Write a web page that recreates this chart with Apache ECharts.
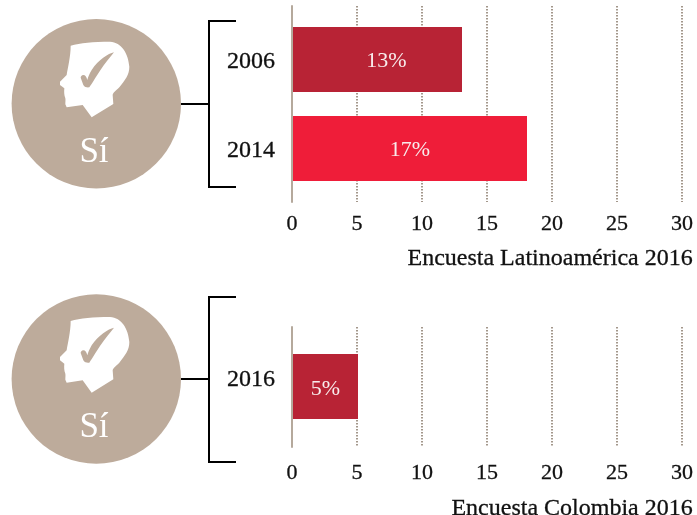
<!DOCTYPE html>
<html>
<head>
<meta charset="utf-8">
<style>
  html, body { margin: 0; padding: 0; background: #fff; }
  #chart { width: 697px; height: 515px; }
</style>
</head>
<body>
<div id="chart"></div>
<script src="https://cdn.jsdelivr.net/npm/echarts@6/dist/echarts.min.js"></script>
<script>
const latamYears = ['2006', '2014'];
const latamValues = [13, 18];
const latamLabels = ['13%', '17%'];
const colombiaYears = ['2016'];
const colombiaValues = [5];
const colombiaLabels = ['5%'];
const axisMax = 30;
const axisStep = 5;
const circleLabel = 'Sí';
const latamSource = 'Encuesta Latinoamérica 2016';
const colombiaSource = 'Encuesta Colombia 2016';

const FONT = '"Liberation Serif", serif';
const TAN = '#bdab9b';
const HEAD = 'M212 137C240 129 280 125 330 125C365 127 385 160 388 200C388 225 375 240 358 262C348 272 339 278 338 285L340 312L275 352L248 315L200 322L196 313C196 305 197 300 196 295C192 285 192 275 193 265L180 255L180 245L200 225C203 205 212 170 212 137Z';
const CHECK = 'M342 157C325 160 295 180 275 210C268 222 264 232 262 240C259 230 256 225 250 225C245 225 242 230 242 233L250 255C254 262 262 263 268 262C276 250 285 235 300 212C315 190 330 172 342 157Z';

echarts.graphic.registerShape('headShape', echarts.graphic.extendPath(HEAD));
echarts.graphic.registerShape('checkShape', echarts.graphic.extendPath(CHECK));

const badge = (top) => [
  { type: 'circle', shape: { cx: 96.3, cy: top + 84.7, r: 84.7 }, style: { fill: TAN } },
  { type: 'headShape', x: 0, y: top - 19, scaleX: 1 / 3, scaleY: 1 / 3, style: { fill: '#fff' } },
  { type: 'checkShape', x: 0, y: top - 19, scaleX: 1 / 3, scaleY: 1 / 3, style: { fill: TAN } },
  { type: 'text', x: 94, y: top + 134, style: { text: circleLabel, fill: '#fff', font: '35px ' + FONT, textAlign: 'center', textVerticalAlign: 'middle' } }
];

const bracket = (top, bottom, mid) => [
  { type: 'polyline', shape: { points: [[236, top], [209, top], [209, bottom], [236, bottom]] }, style: { stroke: '#000', lineWidth: 2, fill: null } },
  { type: 'line', shape: { x1: 181, y1: mid, x2: 209, y2: mid }, style: { stroke: '#000', lineWidth: 2 } }
];

// the grid with the dotted lines and tick labels sits behind the grid with the bars
const backAxis = (gridIndex, margin) => ({
  type: 'value',
  gridIndex,
  min: 0,
  max: axisMax,
  interval: axisStep,
  axisLine: { show: false },
  axisTick: { show: false },
  axisLabel: { margin, color: '#111', fontFamily: FONT, fontSize: 22, textBorderColor: '#111', textBorderWidth: 0.3 },
  splitLine: { lineStyle: { color: '#a3978b', type: [1.5, 1.5], width: 2 }, showMinLine: false }
});

const barAxis = (gridIndex) => ({
  type: 'value',
  gridIndex,
  min: 0,
  max: axisMax,
  show: false
});

const backYAxis = (gridIndex) => ({
  type: 'category',
  gridIndex,
  data: [''],
  z: 3,
  axisTick: { show: false },
  axisLabel: { show: false },
  axisLine: { lineStyle: { color: '#b5a99c', width: 2 } }
});

const yearLabel = { align: 'left', margin: 66, color: '#111', fontFamily: FONT, fontSize: 24, textBorderColor: '#111', textBorderWidth: 0.3 };

const barItems = (values, labels, colors, offsets) => values.map((v, i) => ({
  value: v,
  itemStyle: { color: colors[i] },
  label: { formatter: labels[i], offset: offsets[i] }
}));

const barLabel = { show: true, position: 'inside', color: '#f8ecec', fontFamily: FONT, fontSize: 22 };
const sourceStyle = { color: '#111', fontFamily: FONT, fontSize: 24, fontWeight: 'normal', textBorderColor: '#111', textBorderWidth: 0.3 };

const chart = echarts.init(document.getElementById('chart'));
chart.setOption({
  animation: false,
  backgroundColor: '#fff',
  title: [
    { text: latamSource, right: 4, top: 247, textStyle: sourceStyle, padding: 0 },
    { text: colombiaSource, right: 4, top: 497, textStyle: sourceStyle, padding: 0 }
  ],
  grid: [
    { left: 292, width: 390, top: 6, height: 196 },
    { left: 293, width: 390, top: 15, height: 178 },
    { left: 292, width: 390, top: 327, height: 120 },
    { left: 293, width: 390, top: 327, height: 119 }
  ],
  xAxis: [backAxis(0, 11), barAxis(1), backAxis(2, 15), barAxis(3)],
  yAxis: [
    backYAxis(0),
    { type: 'category', gridIndex: 1, inverse: true, data: latamYears, axisTick: { show: false }, axisLine: { show: false }, axisLabel: { ...yearLabel, verticalAlign: 'top', lineHeight: 4 } },
    backYAxis(2),
    { type: 'category', gridIndex: 3, data: colombiaYears, axisTick: { show: false }, axisLine: { show: false }, axisLabel: { ...yearLabel, verticalAlign: 'bottom', lineHeight: 14 } }
  ],
  series: [
    { type: 'bar', xAxisIndex: 1, yAxisIndex: 1, barWidth: 65, data: barItems(latamValues, latamLabels, ['#b82335', '#ef1d39'], [[9, 2], [0, 2]]), label: barLabel },
    { type: 'bar', xAxisIndex: 3, yAxisIndex: 3, barWidth: 65, data: barItems(colombiaValues, colombiaLabels, ['#b82335'], [[0, 3]]), label: barLabel }
  ],
  graphic: [
    ...badge(19), ...bracket(21, 187, 104),
    ...badge(294.3), ...bracket(297, 462, 379)
  ]
});
</script>
</body>
</html>
